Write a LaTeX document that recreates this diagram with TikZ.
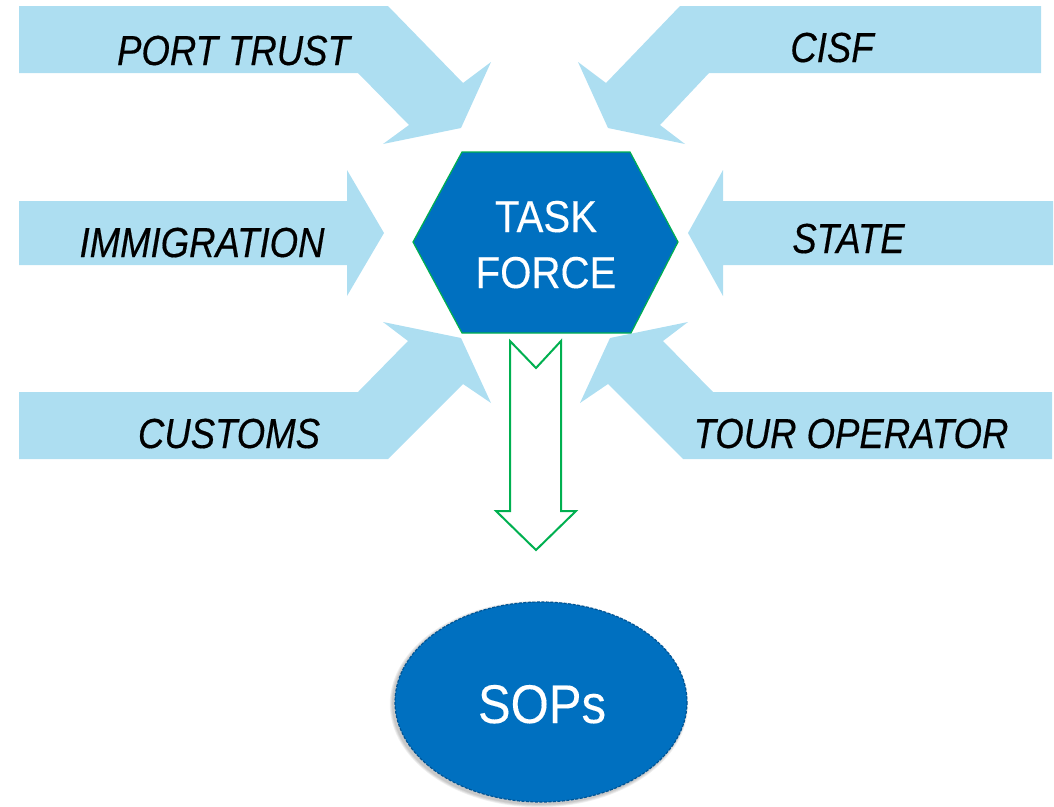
\documentclass[tikz,border=0pt]{standalone}
\usepackage{fontspec}
\setmainfont{Liberation Sans}
\newfontfamily\labfont[FakeStretch=0.87,FakeBold=0.4]{Liberation Sans}
\newfontfamily\hexfont[FakeStretch=0.9,FakeBold=0.2]{Liberation Sans}
\definecolor{lblue}{HTML}{ADDEF1}
\definecolor{hexblue}{HTML}{0070C0}
\definecolor{dkblue}{HTML}{005494}
\definecolor{grn}{HTML}{00B050}
\tikzset{
  bigarrow/.style={fill=lblue, draw=none},
  lab/.style={inner sep=0pt, anchor=base, font=\labfont\itshape\fontsize{42}{42}\selectfont, text=black},
  hexlab/.style={inner sep=0pt, anchor=base, font=\hexfont\fontsize{44.7}{44.7}\selectfont, text=white},
}
\begin{document}
\begin{tikzpicture}[x=1pt,y=-1pt]
\useasboundingbox (0,0) rectangle (1054,806);
% PORT TRUST
\fill[bigarrow] (19,6) -- (388,6) -- (463,83) -- (491,62) -- (461,128) -- (383,144) -- (409,125) -- (358,73) -- (19,73) -- cycle;
% CISF
\fill[bigarrow] (1041,6) -- (680,6) -- (606,83) -- (578,62) -- (608,128) -- (685,144) -- (660,125) -- (709,73) -- (1041,73) -- cycle;
% IMMIGRATION
\fill[bigarrow] (19,201) -- (347,201) -- (347,170) -- (384,233) -- (347,296) -- (347,265) -- (19,265) -- cycle;
% STATE
\fill[bigarrow] (1053,201) -- (723,201) -- (723,170) -- (688,233) -- (723,296) -- (723,265) -- (1053,265) -- cycle;
% CUSTOMS
\fill[bigarrow] (19,459) -- (19,392) -- (358,392) -- (408,341) -- (383,322) -- (461,338) -- (491,403) -- (463,384) -- (388,459) -- cycle;
% TOUR OPERATOR
\fill[bigarrow] (1052,459) -- (1052,392) -- (713,392) -- (663,341) -- (688,322) -- (610,338) -- (580,403) -- (608,384) -- (683,459) -- cycle;

\node[lab] (port) at (233.5,65) {PORT TRUST};
\node[lab] (cisf) at (832,62) {CISF};
\node[lab] (immi) at (202,257) {IMMIGRATION};
\node[lab] (state) at (848.5,253) {STATE};
\node[lab] (cust) at (229,448) {CUSTOMS};
\node[lab] (tour) at (851,448) {TOUR OPERATOR};

% hexagon
\draw[fill=hexblue, draw=grn, line width=1.2pt, line join=miter]
  (462,152) -- (630,152) -- (678,242) -- (631,333) -- (462,333) -- (413,242) -- cycle;
\node[hexlab] (task) at (546,232) {TASK};
\node[hexlab] (force) at (546,288) {FORCE};

% hollow down arrow
\draw[fill=white, draw=grn, line width=2pt, line join=miter]
  (510,341) -- (536,368) -- (561,341) -- (561,511) -- (576,511) -- (536,550) -- (496,511) -- (510,511) -- cycle;

% SOPs ellipse with soft shadow
\foreach \k in {1,...,4}
  \fill[black, opacity=0.06] (539,704) ellipse [x radius=146+\k*0.8, y radius=100+\k*0.8];
\draw[fill=hexblue, draw=dkblue, line width=1.2pt, dash pattern=on 3pt off 1.5pt]
  (541,702) ellipse [x radius=146, y radius=100];
\node[inner sep=0pt, anchor=base, font=\hexfont\fontsize{54.5}{54.5}\selectfont, text=white] (sops) at (542,723) {SOPs};
\end{tikzpicture}
\end{document}
